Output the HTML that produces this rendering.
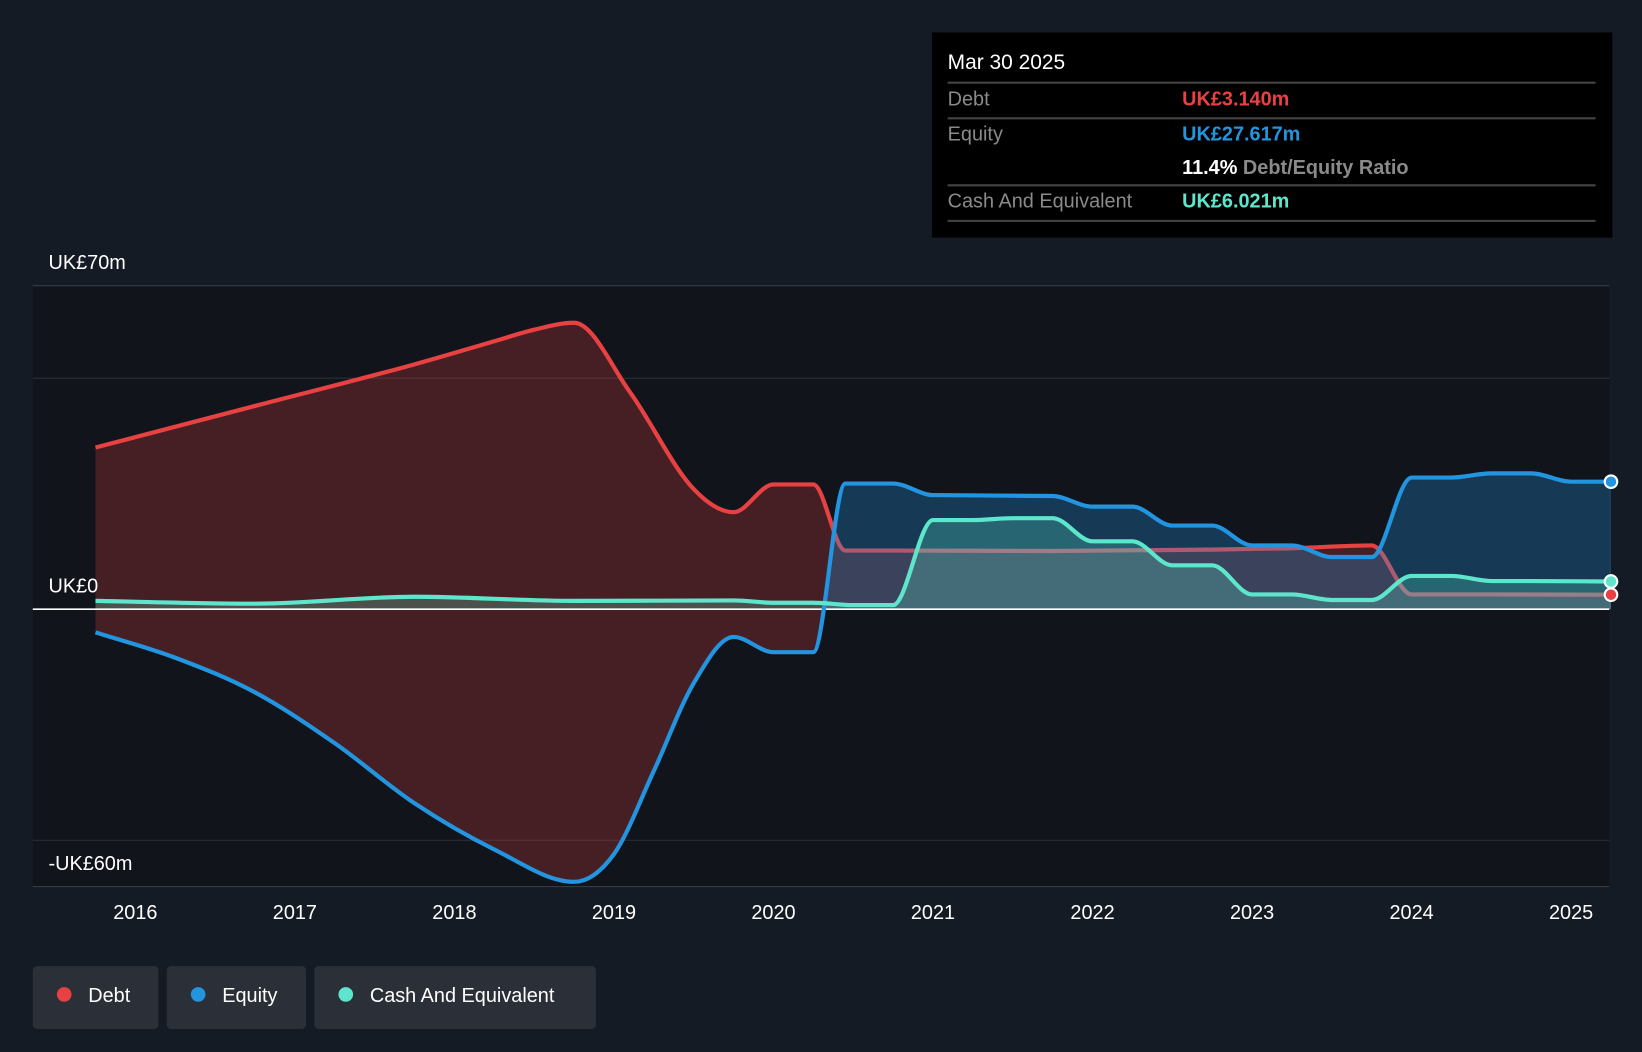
<!DOCTYPE html>
<html><head><meta charset="utf-8"><style>
html,body{margin:0;padding:0;background:#151b24;}
svg{display:block;font-family:"Liberation Sans",sans-serif;}
</style></head><body>
<svg id="chart" width="1642" height="1052" viewBox="0 0 1568 1005">
<rect x="0" y="0" width="1568" height="1005" fill="#151b24"/>
<rect x="31" y="273" width="1506" height="574" fill="#11141b"/>
<g id="grid"></g>
<g id="areas"></g>
<g id="lines"></g>
<g id="xaxis"></g>
<g>
<rect x="890" y="31" width="650" height="196" fill="#000"/>
<text x="905" y="66" fill="#fff" font-size="20">Mar 30 2025</text>
<line x1="905" y1="79" x2="1524" y2="79" stroke="#444" stroke-width="2"/>
<text x="905" y="101" fill="#8a8a8a" font-size="19">Debt</text>
<text x="1129" y="101" fill="#e84142" font-size="19" font-weight="bold">UK£3.140m</text>
<line x1="905" y1="113" x2="1524" y2="113" stroke="#444" stroke-width="2"/>
<text x="905" y="134" fill="#8a8a8a" font-size="19">Equity</text>
<text x="1129" y="134" fill="#2394df" font-size="19" font-weight="bold">UK£27.617m</text>
<text x="1129" y="166" fill="#fff" font-size="19" font-weight="bold">11.4% <tspan fill="#8a8a8a">Debt/Equity Ratio</tspan></text>
<line x1="905" y1="177" x2="1524" y2="177" stroke="#444" stroke-width="2"/>
<text x="905" y="198" fill="#8a8a8a" font-size="19">Cash And Equivalent</text>
<text x="1129" y="198" fill="#5ee6cc" font-size="19" font-weight="bold">UK£6.021m</text>
<line x1="905" y1="211" x2="1524" y2="211" stroke="#444" stroke-width="2"/>
</g>
<text x="46" y="257" fill="#fff" font-size="19">UK£70m</text>
<text x="46" y="566" fill="#fff" font-size="19">UK£0</text>
<text x="46" y="831" fill="#fff" font-size="19">-UK£60m</text>
<g><rect x="31" y="923" width="120" height="60" rx="4" fill="#2a2f38"/><circle cx="61" cy="950" r="7" fill="#e84142"/><text x="84" y="957" fill="#fff" font-size="19">Debt</text></g>
<g><rect x="159" y="923" width="133" height="60" rx="4" fill="#2a2f38"/><circle cx="189" cy="950" r="7" fill="#2394df"/><text x="212" y="957" fill="#fff" font-size="19">Equity</text></g>
<g><rect x="300" y="923" width="269" height="60" rx="4" fill="#2a2f38"/><circle cx="330" cy="950" r="7" fill="#5ee6cc"/><text x="353" y="957" fill="#fff" font-size="19">Cash And Equivalent</text></g>
</svg>
<script>
const years=[2016,2017,2018,2019,2020,2021,2022,2023,2024,2025];
const debtT=[2015.75,2016.75,2017.75,2018.25,2018.5,2018.75,2019.1,2019.5,2019.75,2020,2020.25,2020.45,2020.75,2021.75,2022.75,2023.25,2023.75,2024,2024.5,2025.25];
const debtV=[35,44,53,58,60.5,62,47,26,21,27,27,12.7,12.7,12.6,12.9,13.2,13.8,3.2,3.2,3.14];
const eqT=[2015.75,2016.25,2016.75,2017.25,2017.75,2018.25,2018.75,2019,2019.25,2019.5,2019.75,2020,2020.25,2020.45,2020.75,2021,2021.75,2022,2022.25,2022.5,2022.75,2023,2023.25,2023.5,2023.75,2024,2024.25,2024.5,2024.75,2025,2025.25];
const eqV=[-5,-10.5,-18,-29,-42,-52,-59,-53,-35,-16,-6,-9.3,-9.3,27.2,27.2,24.7,24.5,22.2,22.2,18.1,18.1,13.8,13.8,11.3,11.3,28.5,28.5,29.4,29.4,27.6,27.6];
const cashT=[2015.75,2016.75,2017.75,2018.75,2019.75,2020,2020.25,2020.5,2020.75,2021,2021.25,2021.5,2021.75,2022,2022.25,2022.5,2022.75,2023,2023.25,2023.5,2023.75,2024,2024.25,2024.5,2024.75,2025.25];
const cashV=[1.8,1.2,2.7,1.8,1.9,1.4,1.4,0.9,0.9,19.3,19.3,19.7,19.7,14.7,14.7,9.5,9.5,3.2,3.2,2.0,2.0,7.2,7.2,6.1,6.1,6.0];
const X=t=>129+(t-2016)*152.4;
const Y=v=>582-v*4.414;
const NS='http://www.w3.org/2000/svg';
function mk(tag,attrs,parent){const e=document.createElementNS(NS,tag);for(const k in attrs)e.setAttribute(k,attrs[k]);document.getElementById(parent).appendChild(e);return e;}
function mono(ts,vs){
  const xs=ts.map(X),ys=vs.map(Y),n=xs.length,d=[],m=[];
  for(let i=0;i<n-1;i++)d.push((ys[i+1]-ys[i])/(xs[i+1]-xs[i]));
  m[0]=d[0];m[n-1]=d[n-2];
  for(let i=1;i<n-1;i++){m[i]=(d[i-1]*d[i]<=0)?0:(d[i-1]+d[i])/2;}
  for(let i=0;i<n-1;i++){if(d[i]===0){m[i]=0;m[i+1]=0;continue;}const a=m[i]/d[i],b=m[i+1]/d[i],s=a*a+b*b;if(s>9){const t=3/Math.sqrt(s);m[i]=t*a*d[i];m[i+1]=t*b*d[i];}}
  let p='M'+xs[0]+','+ys[0];
  for(let i=0;i<n-1;i++){const h=(xs[i+1]-xs[i])/3;p+=' C'+(xs[i]+h)+','+(ys[i]+m[i]*h)+' '+(xs[i+1]-h)+','+(ys[i+1]-m[i+1]*h)+' '+xs[i+1]+','+ys[i+1];}
  return p;
}
[70,50,-50].forEach(v=>{const g=mk('line',{x1:31,x2:1537,y1:Y(v),y2:Y(v),stroke:v==70?'#3a3f48':'#2a2e36','stroke-width':1},'grid');

});
const ax=mk('line',{x1:31,x2:1537,y1:847,y2:847,stroke:'#3a3f48','stroke-width':1},'grid');


years.forEach(y=>{const t=mk('text',{x:X(y),y:878,fill:'#fff','font-size':19,'text-anchor':'middle'},'xaxis');t.textContent=y;

});
const eqPath=mono(eqT,eqV),debtPath=mono(debtT,debtV),cashPath=mono(cashT,cashV);
const x0=X(2015.75),x1=X(2025.25);
const defs=mk('defs',{},'areas');
const cp=document.createElementNS(NS,'clipPath');cp.setAttribute('id','pos');defs.appendChild(cp);
const r1=document.createElementNS(NS,'rect');r1.setAttribute('x',0);r1.setAttribute('y',0);r1.setAttribute('width',1568);r1.setAttribute('height',Y(0));cp.appendChild(r1);
const cn=document.createElementNS(NS,'clipPath');cn.setAttribute('id','neg');defs.appendChild(cn);
const r2=document.createElementNS(NS,'rect');r2.setAttribute('x',0);r2.setAttribute('y',Y(0));r2.setAttribute('width',1568);r2.setAttribute('height',500);cn.appendChild(r2);
const a1=mk('path',{d:debtPath+' L'+x1+','+Y(0)+' L'+x0+','+Y(0)+'Z',fill:'rgba(232,65,66,0.25)','clip-path':'url(#pos)'},'areas');


const a2=mk('path',{d:eqPath+' L'+x1+','+Y(0)+' L'+x0+','+Y(0)+'Z',fill:'rgba(232,65,66,0.25)','clip-path':'url(#neg)'},'areas');


const l1=mk('path',{d:debtPath,fill:'none',stroke:'#e84142','stroke-width':4},'areas');


const a3=mk('path',{d:eqPath+' L'+x1+','+Y(0)+' L'+x0+','+Y(0)+'Z',fill:'rgba(35,148,223,0.3)','clip-path':'url(#pos)'},'areas');


const a4=mk('path',{d:cashPath+' L'+x1+','+Y(0)+' L'+x0+','+Y(0)+'Z',fill:'rgba(94,230,204,0.25)'},'areas');


const zl=mk('line',{x1:31,x2:1537,y1:Y(0),y2:Y(0),stroke:'#fff','stroke-width':1.5},'areas');


const l2=mk('path',{d:eqPath,fill:'none',stroke:'#2394df','stroke-width':4},'lines');


const l3=mk('path',{d:cashPath,fill:'none',stroke:'#5ee6cc','stroke-width':4},'lines');


[[debtV,'#e84142','debt-end-dot'],[eqV,'#2394df','equity-end-dot'],[cashV,'#5ee6cc','cash-end-dot']].forEach(([v,c,n])=>{
const d=mk('circle',{cx:x1,cy:Y(v[v.length-1]),r:6,fill:c,stroke:'#fff','stroke-width':2},'lines');

});
</script>
</body></html>
